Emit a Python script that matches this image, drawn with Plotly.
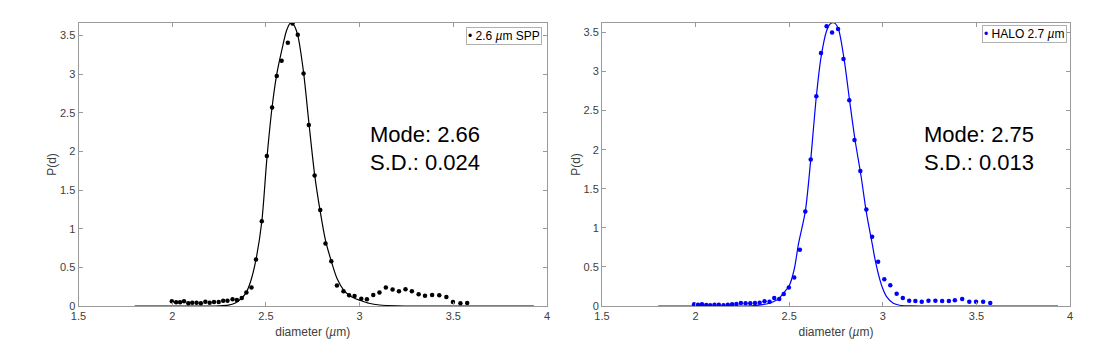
import plotly.graph_objects as go

# ---- data ----
spp_d = [1.998, 2.021, 2.042, 2.063, 2.086, 2.107, 2.130, 2.153, 2.177, 2.200,
         2.223, 2.248, 2.272, 2.295, 2.322, 2.345, 2.371, 2.396, 2.423, 2.447,
         2.478, 2.505, 2.533, 2.558, 2.584, 2.617, 2.642, 2.670, 2.701, 2.729,
         2.760, 2.790, 2.818, 2.849, 2.879, 2.914, 2.944, 2.973, 3.009, 3.039,
         3.073, 3.106, 3.140, 3.176, 3.210, 3.245, 3.279, 3.315, 3.349, 3.387,
         3.425, 3.463, 3.498, 3.538, 3.574]
spp_p = [0.060, 0.048, 0.048, 0.060, 0.035, 0.043, 0.043, 0.035, 0.056, 0.043,
         0.052, 0.052, 0.069, 0.069, 0.087, 0.078, 0.104, 0.173, 0.238, 0.602,
         1.095, 1.939, 2.566, 2.973, 3.172, 3.405, 3.652, 3.509, 3.007, 2.341,
         1.688, 1.242, 0.809, 0.580, 0.264, 0.190, 0.138, 0.130, 0.095, 0.087,
         0.143, 0.173, 0.238, 0.212, 0.190, 0.216, 0.190, 0.151, 0.134, 0.143,
         0.138, 0.117, 0.052, 0.035, 0.039]

spp_fit_d = [1.80, 2.20, 2.25, 2.30, 2.334, 2.37, 2.396, 2.42, 2.447, 2.478,
             2.505, 2.533, 2.558, 2.584, 2.61, 2.631, 2.65, 2.67, 2.70, 2.729,
             2.76, 2.79, 2.818, 2.849, 2.879, 2.914, 2.944, 2.973, 3.00, 3.05,
             3.107, 3.20, 3.30, 3.93]
spp_fit_p = [0.0, 0.0, 0.003, 0.012, 0.035, 0.10, 0.18, 0.33, 0.60, 1.09,
             1.90, 2.57, 3.00, 3.30, 3.56, 3.66, 3.63, 3.50, 3.04, 2.38,
             1.70, 1.22, 0.85, 0.58, 0.36, 0.21, 0.14, 0.10, 0.075, 0.035,
             0.013, 0.003, 0.0, 0.0]

halo_d = [1.992, 2.013, 2.034, 2.057, 2.078, 2.101, 2.124, 2.149, 2.172, 2.195,
          2.218, 2.242, 2.267, 2.292, 2.317, 2.342, 2.368, 2.395, 2.420, 2.447,
          2.471, 2.498, 2.527, 2.557, 2.586, 2.615, 2.645, 2.670, 2.700, 2.729,
          2.761, 2.790, 2.821, 2.849, 2.880, 2.912, 2.943, 2.975, 3.008, 3.040,
          3.074, 3.107, 3.141, 3.174, 3.208, 3.244, 3.281, 3.317, 3.353, 3.385,
          3.424, 3.462, 3.498, 3.536, 3.574]
halo_p = [0.021, 0.017, 0.021, 0.013, 0.009, 0.017, 0.017, 0.009, 0.017, 0.021,
          0.026, 0.038, 0.034, 0.034, 0.038, 0.043, 0.060, 0.055, 0.102, 0.089,
          0.153, 0.238, 0.366, 0.719, 1.209, 1.873, 2.682, 3.235, 3.580, 3.499,
          3.542, 3.159, 2.631, 2.124, 1.728, 1.234, 0.885, 0.566, 0.341, 0.264,
          0.158, 0.102, 0.068, 0.064, 0.055, 0.068, 0.068, 0.064, 0.064, 0.072,
          0.089, 0.055, 0.055, 0.055, 0.038]

halo_fit_d = [1.80, 2.30, 2.35, 2.395, 2.42, 2.447, 2.471, 2.50, 2.527, 2.55,
              2.586, 2.615, 2.645, 2.67, 2.70, 2.72, 2.741, 2.762, 2.793, 2.823,
              2.852, 2.884, 2.912, 2.943, 2.96, 2.985, 3.00, 3.02, 3.056, 3.09,
              3.15, 3.20, 3.936]
halo_fit_p = [0.0, 0.003, 0.015, 0.035, 0.06, 0.10, 0.17, 0.26, 0.47, 0.80,
              1.21, 1.87, 2.68, 3.18, 3.52, 3.61, 3.62, 3.55, 3.16, 2.62,
              2.12, 1.66, 1.20, 0.80, 0.58, 0.33, 0.22, 0.12, 0.035, 0.01,
              0.002, 0.0, 0.0]

x_ticks = [1.5, 2, 2.5, 3, 3.5, 4]
x_ticklabels = ["1.5", "2", "2.5", "3", "3.5", "4"]
y_ticks = [0, 0.5, 1, 1.5, 2, 2.5, 3, 3.5]
y_ticklabels = ["0", "0.5", "1", "1.5", "2", "2.5", "3", "3.5"]

left_name = "2.6 <i>µ</i>m SPP"
right_name = "HALO 2.7 <i>µ</i>m"
left_stats = ["Mode: 2.66", "S.D.: 0.024"]
right_stats = ["Mode: 2.75", "S.D.: 0.013"]

BLUE = "#0000ff"
FONT = "Liberation Sans, Arial, sans-serif"
AXC = "#9a9a9a"
TXC = "#404040"

fig = go.Figure()
fig.add_trace(go.Scatter(x=spp_fit_d, y=spp_fit_p, mode="lines", line=dict(color="black", width=1.2, shape="spline", smoothing=0.8),
                         showlegend=False, xaxis="x", yaxis="y"))
fig.add_trace(go.Scatter(x=spp_d, y=spp_p, mode="markers", marker=dict(color="black", size=4.5),
                         name=left_name, showlegend=False, xaxis="x", yaxis="y"))
fig.add_trace(go.Scatter(x=halo_fit_d, y=halo_fit_p, mode="lines", line=dict(color=BLUE, width=1.2, shape="spline", smoothing=0.8),
                         showlegend=False, xaxis="x2", yaxis="y2"))
fig.add_trace(go.Scatter(x=halo_d, y=halo_p, mode="markers", marker=dict(color=BLUE, size=4.5),
                         name=right_name, showlegend=False, xaxis="x2", yaxis="y2"))

W, H = 1116, 354
def xd(a, b):
    return [a / W, b / W]
ydom = [1 - 306 / H, 1 - 23 / H]

common_x = dict(range=[1.5, 4], tickmode="array", tickvals=x_ticks, ticktext=x_ticklabels,
                ticks="inside", ticklen=4, tickcolor=AXC, showline=True, linecolor=AXC, linewidth=1,
                mirror="ticks", showgrid=False, zeroline=False, automargin=False,
                tickfont=dict(size=11, color=TXC, family=FONT),
                title=dict(text="diameter (<i>µ</i>m)", font=dict(size=12, color=TXC, family=FONT), standoff=6))
common_y = dict(tickmode="array", tickvals=y_ticks, ticktext=y_ticklabels,
                ticks="inside", ticklen=4, tickcolor=AXC, showline=True, linecolor=AXC, linewidth=1,
                mirror="ticks", showgrid=False, zeroline=False, automargin=False,
                tickfont=dict(size=11, color=TXC, family=FONT),
                title=dict(text="P(d)", font=dict(size=12, color=TXC, family=FONT), standoff=0))

fig.update_layout(
    width=W, height=H, margin=dict(l=0, r=0, t=0, b=0),
    paper_bgcolor="white", plot_bgcolor="white",
    font=dict(family=FONT),
    xaxis=dict(domain=xd(78.5, 547), anchor="y", **common_x),
    yaxis=dict(domain=ydom, anchor="x", range=[0, 3.66], **common_y),
    xaxis2=dict(domain=xd(602, 1070), anchor="y2", **common_x),
    yaxis2=dict(domain=ydom, anchor="x2", range=[0, 3.62], **common_y),
    showlegend=False,
)

ann = []
# statistics text
ann.append(dict(x=3.045, y=2.215, xref="x", yref="y", text=left_stats[0], showarrow=False, xanchor="left", yanchor="middle",
                font=dict(size=22, color="black", family=FONT)))
ann.append(dict(x=3.045, y=1.85, xref="x", yref="y", text=left_stats[1], showarrow=False, xanchor="left", yanchor="middle",
                font=dict(size=22, color="black", family=FONT)))
ann.append(dict(x=3.208, y=2.19, xref="x2", yref="y2", text=right_stats[0], showarrow=False, xanchor="left", yanchor="middle",
                font=dict(size=22, color="black", family=FONT)))
ann.append(dict(x=3.208, y=1.835, xref="x2", yref="y2", text=right_stats[1], showarrow=False, xanchor="left", yanchor="middle",
                font=dict(size=22, color="black", family=FONT)))
# legend boxes
ann.append(dict(x=1, y=1, xref="x domain", yref="y domain", xshift=-5, yshift=-4, xanchor="right", yanchor="top",
                text="<span style='color:black'>•</span> " + left_name, showarrow=False,
                bordercolor="#b0b0b0", borderwidth=1, borderpad=1, bgcolor="white",
                font=dict(size=12, color="black", family=FONT)))
ann.append(dict(x=1, y=1, xref="x2 domain", yref="y2 domain", xshift=-3, yshift=-2, xanchor="right", yanchor="top",
                text="<span style='color:" + BLUE + "'>•</span> " + right_name, showarrow=False,
                bordercolor="#b0b0b0", borderwidth=1, borderpad=1, bgcolor="white",
                font=dict(size=12, color="black", family=FONT)))
fig.update_layout(annotations=ann)

fig.write_html("out.html")
